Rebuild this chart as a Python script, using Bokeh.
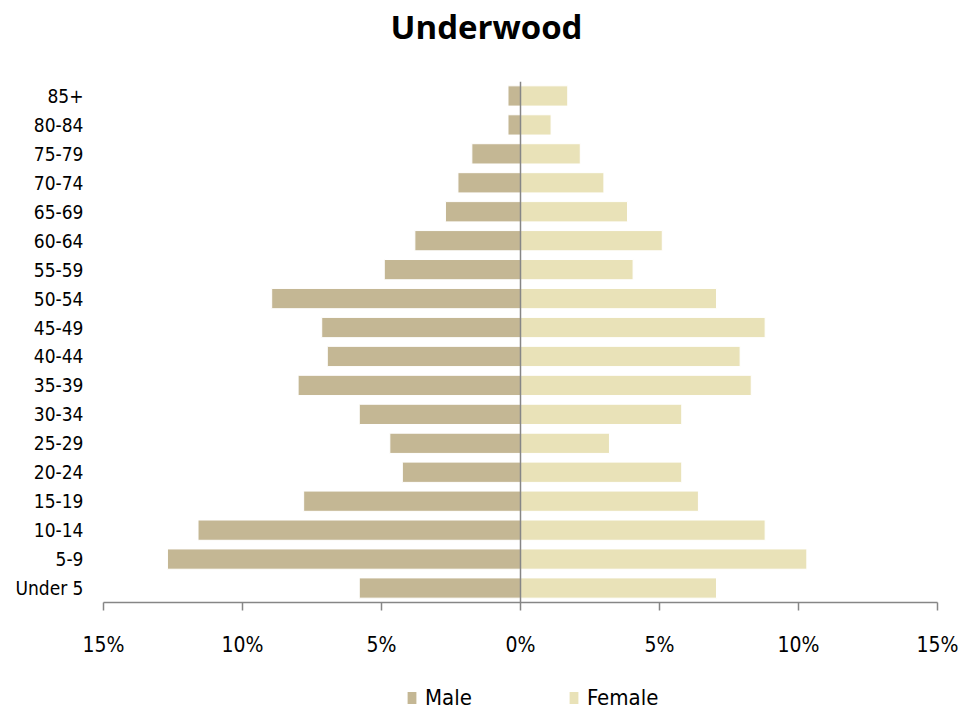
from bokeh.plotting import figure
from bokeh.layouts import column
from bokeh.models import FixedTicker, Span, Legend, LegendItem, Title
from bokeh.embed import file_html
from bokeh.resources import INLINE

ages = ["Under 5", "5-9", "10-14", "15-19", "20-24", "25-29", "30-34", "35-39", "40-44",
        "45-49", "50-54", "55-59", "60-64", "65-69", "70-74", "75-79", "80-84", "85+"]
male = [5.8, 12.7, 11.6, 7.8, 4.25, 4.7, 5.8, 8.0, 6.95, 7.15, 8.95, 4.9, 3.8, 2.7, 2.25, 1.75, 0.45, 0.45]
female = [7.05, 10.3, 8.8, 6.4, 5.8, 3.2, 5.8, 8.3, 7.9, 8.8, 7.05, 4.05, 5.1, 3.85, 3.0, 2.15, 1.1, 1.7]
tick_vals = [-15, -10, -5, 0, 5, 10, 15]
tick_labels = ["15%", "10%", "5%", "0%", "5%", "10%", "15%"]
series = ["Male", "Female"]

FONT = "DejaVu Sans Condensed"
MALE_C = "#C4B794"
FEMALE_C = "#E9E2B8"

fig = figure(width=979, height=680, y_range=ages, x_range=(-15, 15),
             output_backend="svg", toolbar_location=None,
             min_border_left=103, min_border_right=42, min_border_top=0, min_border_bottom=78)
fig.title = None
spacer = Title(text=" ", text_font_size="1px", standoff=29)
fig.add_layout(spacer, "above")
t = Title(text="Underwood", align="left", text_font="Open Sans",
          text_font_size="33px", text_font_style="bold", text_color="#000000",
          offset=287, standoff=2)
fig.add_layout(t, "above")

fig.hbar(y=ages, left=[-m for m in male], right=0, height=0.7,
         fill_color=MALE_C, line_color="white", line_width=1)
fig.hbar(y=ages, left=0, right=female, height=0.7,
         fill_color=FEMALE_C, line_color="white", line_width=1)

fig.add_layout(Span(location=0, dimension="height", line_color="#868686", line_width=1.5))

fig.outline_line_color = None
fig.xgrid.grid_line_color = None
fig.ygrid.grid_line_color = None

xa = fig.xaxis[0]
xa.ticker = FixedTicker(ticks=tick_vals)
xa.major_label_overrides = {v: l for v, l in zip(tick_vals, tick_labels)}
xa.axis_line_color = "#868686"
xa.axis_line_width = 1.5
xa.major_tick_line_color = "#868686"
xa.major_tick_line_width = 1.5
xa.major_tick_in = 0
xa.major_tick_out = 8
xa.minor_tick_line_color = None
xa.major_label_text_font = FONT
xa.major_label_text_font_size = "21px"
xa.major_label_text_color = "#000000"
xa.major_label_standoff = 22

ya = fig.yaxis[0]
ya.axis_line_color = None
ya.major_tick_line_color = None
ya.minor_tick_line_color = None
ya.major_label_text_font = FONT
ya.major_label_text_font_size = "19px"
ya.major_label_text_color = "#000000"
ya.major_label_standoff = 14

# legend strip (swatch proxies of zero width, outside the data view)
lf = figure(width=979, height=33, x_range=(0, 1), y_range=(0, 1),
            output_backend="svg", toolbar_location=None,
            min_border_left=0, min_border_right=0, min_border_top=0, min_border_bottom=0)
lf.axis.visible = False
lf.grid.visible = False
lf.outline_line_color = None
lm = lf.hbar(y=[-5], left=[0], right=[0], height=0.1, fill_color=MALE_C, line_alpha=0)
lfe = lf.hbar(y=[-5], left=[0], right=[0], height=0.1, fill_color=FEMALE_C, line_alpha=0)
legend = Legend(items=[LegendItem(label=series[0], renderers=[lm]),
                       LegendItem(label=series[1], renderers=[lfe])],
                orientation="horizontal", location=(303, 3),
                label_text_font=FONT, label_text_font_size="22px", label_text_color="#000000",
                glyph_width=11, glyph_height=15, spacing=96, padding=0,
                label_standoff=8, label_height=15,
                border_line_color=None, background_fill_alpha=0, margin=0)
lf.add_layout(legend, "center")

p = column(fig, lf, spacing=0)
open("out.html", "w").write(file_html(p, INLINE))
